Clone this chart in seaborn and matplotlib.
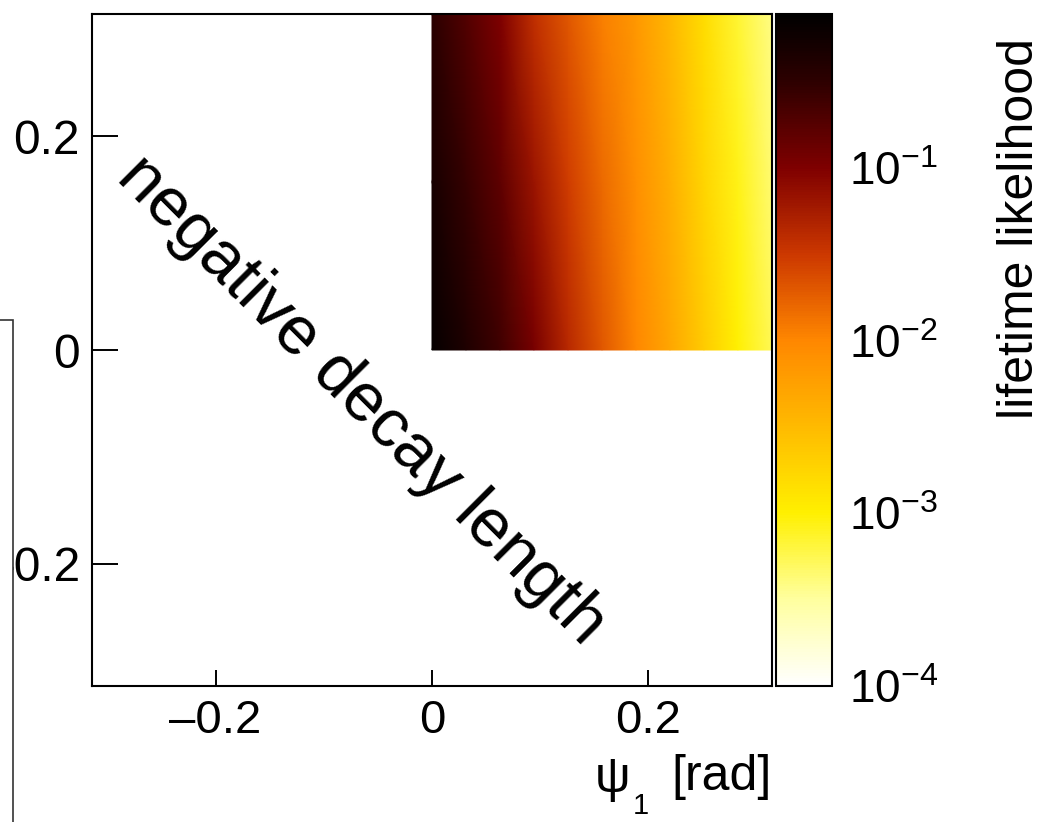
import numpy as np
import pandas as pd
import matplotlib
matplotlib.use("Agg")
import matplotlib.pyplot as plt
import seaborn as sns
from matplotlib.colors import LogNorm, LinearSegmentedColormap
from matplotlib.ticker import FixedLocator, FuncFormatter, LogLocator
from matplotlib.patches import Rectangle

# ---------------- data ----------------
psi1 = [0.0, 0.0314, 0.0628, 0.0942, 0.1257, 0.1571, 0.1885, 0.2199, 0.2513, 0.2827, 0.3142]
psi2 = [0.0, 0.1571, 0.3142]
lik_psi2_0 = [0.70, 0.42, 0.25, 0.11, 0.043, 0.020, 0.010, 0.0050, 0.0022, 0.0010, 0.00055]
lik_psi2_mid = [0.48, 0.28, 0.16, 0.065, 0.030, 0.015, 0.0083, 0.0042, 0.0018, 0.00085, 0.00045]
lik_psi2_top = [0.33, 0.19, 0.10, 0.038, 0.020, 0.011, 0.0068, 0.0034, 0.0015, 0.0007, 0.00038]
axis_ticks = [-0.2, 0.0, 0.2]
cbar_range = (1e-4, 0.78)
annotation = "negative decay length"
cbar_title = "lifetime likelihood"
xlabel_parts = ("\u03c8", "1", "[rad]")

# ---------------- style ----------------
sns.set_theme(style="white")
plt.rcParams["font.family"] = ["Liberation Sans", "DejaVu Sans"]
plt.rcParams["mathtext.fontset"] = "custom"
plt.rcParams["mathtext.rm"] = "Liberation Sans"
plt.rcParams["mathtext.it"] = "Liberation Sans"
plt.rcParams["mathtext.bf"] = "Liberation Sans:bold"
plt.rcParams["axes.unicode_minus"] = True

W, H = 1041, 822
fig = plt.figure(figsize=(W / 100, H / 100), dpi=100)
fig.patch.set_facecolor("white")

ax = fig.add_axes([92 / W, 1 - 686 / H, 680 / W, 672 / H])
cax = fig.add_axes([776 / W, 1 - 686 / H, 56 / W, 672 / H])

# colormap: white -> yellow -> orange -> dark red -> black
vmin, vmax = cbar_range
anchors = [(1e-4, (1, 1, 1)), (10 ** -3.5, (1, 1, 0.62)), (1e-3, (1, 0.94, 0)),
           (10 ** -2.5, (1, 0.73, 0)), (1e-2, (1, 0.53, 0)), (10 ** -1.5, (0.80, 0.22, 0)),
           (1e-1, (0.50, 0, 0)), (10 ** -0.5, (0.18, 0, 0)), (vmax, (0, 0, 0))]
lo, hi = np.log10(vmin), np.log10(vmax)
cmap = LinearSegmentedColormap.from_list(
    "lik", [((np.log10(v) - lo) / (hi - lo), c) for v, c in anchors])
norm = LogNorm(vmin=vmin, vmax=vmax)

Z = np.array([lik_psi2_0, lik_psi2_mid, lik_psi2_top])
X, Y = np.meshgrid(psi1, psi2)
mesh = ax.pcolormesh(X, Y, Z, cmap=cmap, norm=norm, shading="gouraud", rasterized=True)

lim = np.pi / 10
ax.set_xlim(-lim, lim)
ax.set_ylim(-lim, lim)
ax.set_facecolor("white")

fmt = FuncFormatter(lambda v, _: "0" if abs(v) < 1e-9 else f"{v:g}".replace("-", "\u2013"))
ax.xaxis.set_major_locator(FixedLocator(axis_ticks))
ax.yaxis.set_major_locator(FixedLocator(axis_ticks))
ax.xaxis.set_major_formatter(fmt)
ax.yaxis.set_major_formatter(fmt)
ax.tick_params(axis="x", direction="in", length=11.5, width=1.4, labelsize=34, pad=9,
               bottom=True, top=False, colors="black")
ax.tick_params(axis="y", direction="in", length=18.7, width=1.4, labelsize=34.5, pad=8.7,
               left=True, right=False, colors="black")
for s in ax.spines.values():
    s.set_visible(True)
    s.set_color("black")
    s.set_linewidth(1.5)

# x-axis title: psi with a low subscript, right-aligned to the axis end
fig.text(772 / W, 1 - 790 / H, xlabel_parts[2], ha="right", va="baseline",
         fontsize=36, color="black")
fig.text(630 / W, 1 - 792 / H, xlabel_parts[0], ha="right", va="baseline",
         fontsize=36, color="black")
fig.text(633 / W, 1 - 814 / H, xlabel_parts[1], ha="left", va="baseline",
         fontsize=21, color="black")

ax.text(-0.065, -0.047, annotation, fontsize=49, rotation=-45,
        ha="center", va="center", rotation_mode="anchor", color="black")

# colorbar
cb = fig.colorbar(mesh, cax=cax)
cb.outline.set_linewidth(1.5)
cb.outline.set_edgecolor("black")
cax.yaxis.set_ticks_position("right")
cax.yaxis.set_major_locator(LogLocator(base=10))
cax.yaxis.set_minor_locator(LogLocator(base=10, subs=np.arange(2, 10)))
cax.tick_params(which="major", direction="in", length=18, width=1.4, labelsize=33,
                pad=12, colors="black")
cax.tick_params(which="minor", direction="in", length=8.6, width=1.4, colors="black")
fig.text(1020 / W, 1 - 38 / H, cbar_title, rotation=90, ha="center", va="top",
         fontsize=36, color="black")

# neighbouring panel (white box) overlapping the left edge of the crop
fig.add_artist(Rectangle((-20 / W, -20 / H), 33 / W, (822 - 320 + 20) / H,
                         transform=fig.transFigure, facecolor="white",
                         edgecolor="#333333", linewidth=1.2, zorder=10))

fig.savefig("out.png", dpi=100, facecolor="white")
